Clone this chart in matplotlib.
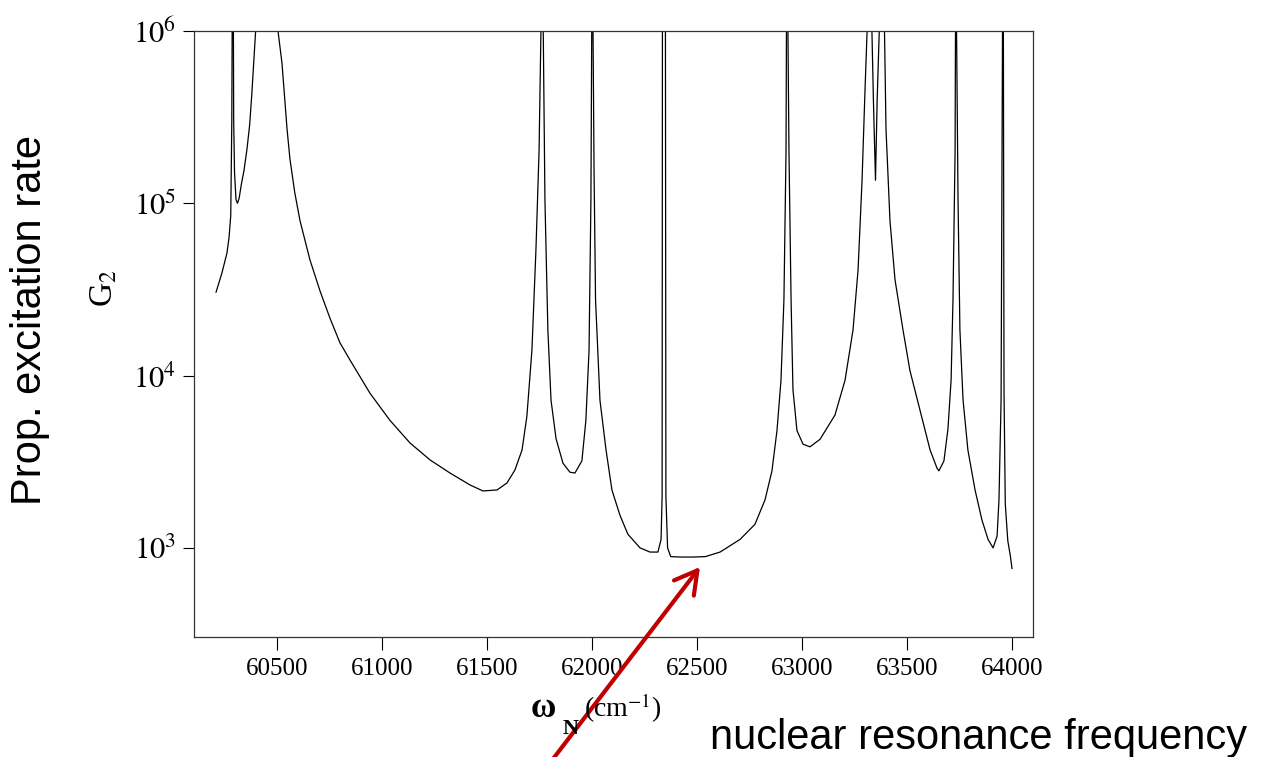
import matplotlib
matplotlib.use("Agg")
import matplotlib.pyplot as plt

plt.rcParams["font.family"] = ["Liberation Serif", "DejaVu Serif"]
plt.rcParams["mathtext.fontset"] = "stix"

# omega_N (cm^-1) and G2 (peaks clip at the top)
omega = [
    60210, 60238, 60262, 60272, 60280, 60285, 60290, 60294, 60298, 60305,
    60312, 60320, 60330, 60343, 60357, 60370, 60380, 60390, 60398, 60450,
    60505, 60524, 60548, 60562, 60585, 60610, 60657, 60705, 60752, 60800,
    60848, 60943, 61038, 61133, 61229, 61324, 61419, 61481, 61548, 61595,
    61633, 61667, 61690, 61714, 61733, 61748, 61757, 61762, 61768, 61776,
    61790, 61805, 61829, 61862, 61895, 61919, 61952, 61971, 61986, 61995,
    61999, 62002, 62005, 62010, 62017, 62038, 62067, 62095, 62133, 62171,
    62229, 62276, 62314, 62329, 62334, 62336, 62349, 62352, 62360, 62375,
    62420, 62480, 62540, 62610, 62705, 62776, 62824, 62857, 62881, 62900,
    62914, 62924, 62926, 62929, 62933, 62938, 62948, 62957, 62976, 63005,
    63038, 63086, 63157, 63205, 63243, 63267, 63286, 63300, 63310, 63320,
    63333, 63340, 63350, 63358, 63368, 63380, 63393, 63400, 63419, 63443,
    63481, 63514, 63562, 63610, 63643, 63652, 63676, 63695, 63710, 63719,
    63729, 63731, 63733, 63736, 63743, 63752, 63767, 63790, 63824, 63857,
    63886, 63910, 63929, 63938, 63948, 63955, 63957, 63959, 63962, 63968,
    63980, 63992, 64000,
]
g2 = [
    30500, 39400, 51500, 63500, 85000, 3e5, 1e7, 3e5, 1.5e5, 1.05e5,
    1.0e5, 1.07e5, 1.28e5, 1.55e5, 2.05e5, 2.85e5, 4.25e5, 6.8e5, 1e6, 1e7,
    1e6, 6.5e5, 2.7e5, 1.8e5, 1.15e5, 79000, 47000, 31000, 21600, 15500,
    12300, 7900, 5500, 4070, 3240, 2720, 2320, 2140, 2170, 2380,
    2830, 3700, 5800, 14000, 53000, 2e5, 1e6, 1e7, 1e6, 1.05e5,
    18400, 7200, 4300, 3100, 2750, 2720, 3200, 5500, 14000, 1.05e5,
    1e6, 1e7, 1e6, 1.5e5, 27500, 7200, 3700, 2170, 1550, 1200,
    1000, 946, 946, 1120, 2000, 1e7, 1e7, 2000, 1000, 890,
    885, 885, 890, 946, 1120, 1370, 1900, 2800, 4800, 9400,
    27500, 2e5, 1e6, 1e7, 1e6, 2e5, 27500, 8300, 4800, 4000,
    3860, 4270, 5900, 9400, 18400, 41000, 1.36e5, 4.5e5, 1e6, 1e7,
    1e6, 4e5, 1.36e5, 4e5, 1e6, 1e7, 1e6, 2.7e5, 79000, 36000,
    18400, 10700, 6300, 3700, 2900, 2800, 3200, 4900, 9400, 27500,
    2e5, 1e6, 1e7, 1e6, 1.05e5, 18400, 7200, 3700, 2170, 1450,
    1120, 1000, 1170, 1900, 7200, 1e6, 1e7, 1e6, 8000, 1800,
    1100, 900, 760,
]

x_ticks = [60500, 61000, 61500, 62000, 62500, 63000, 63500, 64000]
y_ticks = [1e3, 1e4, 1e5, 1e6]
y_tick_labels = [r"$10^{3}$", r"$10^{4}$", r"$10^{5}$", r"$10^{6}$"]

W, H = 1262, 757


def fx(px):
    return px / W


def fy(py):
    return 1 - py / H


fig = plt.figure(figsize=(W / 100, H / 100), dpi=100)
fig.patch.set_facecolor("white")
ax = fig.add_axes([fx(194), fy(637), (1033 - 194) / W, (637 - 31) / H])

ax.plot(omega, g2, color="black", lw=0.9)
ax.set_yscale("log")
ax.set_xlim(60105, 64100)
ax.set_ylim(304, 1e6)

ax.set_xticks(x_ticks)
ax.set_xticklabels([str(v) for v in x_ticks])
ax.set_yticks(y_ticks)
ax.set_yticklabels(y_tick_labels)
ax.minorticks_off()
ax.tick_params(axis="x", direction="out", length=9, width=0.8, pad=6, labelsize=18)
ax.tick_params(axis="y", direction="out", length=8, width=0.8, pad=5, labelsize=22)
for s in ax.spines.values():
    s.set_color("#333333")
    s.set_linewidth(0.9)

# x label: omega_N (cm^-1), built from pieces like the original
fig.text(fx(531), fy(717), "ω", ha="left", va="baseline",
         fontsize=25, fontweight="bold")
fig.text(fx(563), fy(734), "N", ha="left", va="baseline",
         fontsize=16, fontweight="bold")
fig.text(fx(584), fy(717), r"(cm$^{-1}$)", ha="left", va="baseline", fontsize=20)

# y label
fig.text(fx(104), fy(288), r"G$_2$", rotation=90,
         ha="center", va="center", fontsize=24)

# slide annotations
fig.text(fx(30), fy(320), "Prop. excitation rate", rotation=90,
         ha="center", va="center", fontsize=30, family="Liberation Sans")
fig.text(fx(710), fy(738), "nuclear resonance frequency",
         ha="left", va="center", fontsize=30, family="Liberation Sans")

ax.annotate("", xy=(fx(700), fy(567)), xycoords="figure fraction",
            xytext=(fx(543), fy(772)), textcoords="figure fraction",
            arrowprops=dict(arrowstyle="->,head_length=0.8,head_width=0.45",
                            color="#c00000", lw=3, mutation_scale=20,
                            shrinkA=0, shrinkB=0),
            annotation_clip=False)

fig.savefig("out.png", dpi=100)
